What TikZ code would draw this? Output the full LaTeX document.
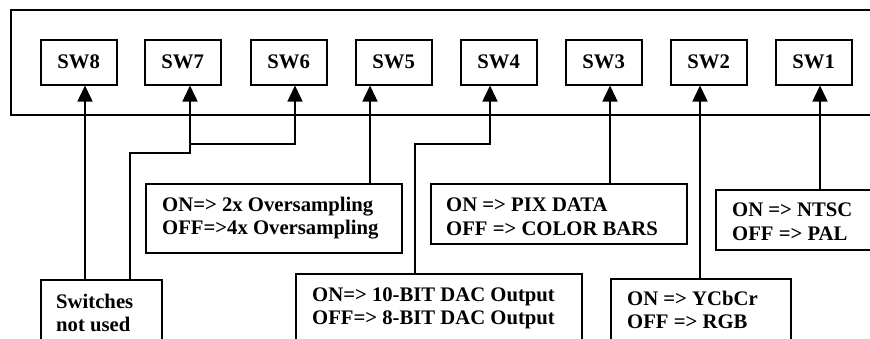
\documentclass[tikz,border=0pt]{standalone}
\usepackage{fontspec}
\setmainfont{Liberation Serif}
\usetikzlibrary{arrows.meta}
\tikzset{
  fnt/.style={font=\fontsize{20.7}{23.5}\selectfont\bfseries},
  box/.style={draw, line width=1.5pt, inner sep=0pt, anchor=north west},
  swbox/.style={box, fnt, minimum width=76pt, minimum height=45pt},
  lbl/.style={fnt, align=left, anchor=base west, inner sep=0pt},
  arr/.style={line width=1.5pt, -{Triangle[length=16pt,width=15pt]}},
  wire/.style={line width=1.5pt}
}
\begin{document}
\begin{tikzpicture}[x=1pt,y=-1pt]
\clip (0,0) rectangle (870,338);
\fill[white] (0,0) rectangle (870,338);
% panel
\node[box, line width=1.8pt, minimum width=890pt, minimum height=105pt] (panel) at (10,9) {};
% switches
\node[swbox] (sw8) at (40,39) {SW8};
\node[swbox] (sw7) at (144,39) {SW7};
\node[swbox] (sw6) at (250,39) {SW6};
\node[swbox] (sw5) at (355,39) {SW5};
\node[swbox] (sw4) at (460,39) {SW4};
\node[swbox] (sw3) at (565,39) {SW3};
\node[swbox] (sw2) at (670,39) {SW2};
\node[swbox] (sw1) at (775,39) {SW1};
% description boxes
\node[box, minimum width=121pt, minimum height=80pt] (nu) at (40,279) {};
\node[box, minimum width=256pt, minimum height=69pt] (os) at (145,183) {};
\node[box, minimum width=286pt, minimum height=80pt] (dac) at (295,273) {};
\node[box, minimum width=256pt, minimum height=60pt] (pix) at (430,183) {};
\node[box, minimum width=180pt, minimum height=80pt] (ycc) at (610,278) {};
\node[box, minimum width=170pt, minimum height=60pt] (ntsc) at (715,189) {};
% texts (anchored at the baseline of the second line)
\node[lbl] (tnu) at (56,331.5) {Switches\\not used};
\node[lbl] (tos) at (162,234.5) {ON=> 2x Oversampling\\OFF=>4x Oversampling};
\node[lbl] (tdac) at (312,324.5) {ON=> 10-BIT DAC Output\\OFF=> 8-BIT DAC Output};
\node[lbl] (tpix) at (446,235) {ON => PIX DATA\\OFF => COLOR BARS};
\node[lbl] (tycc) at (627,328.5) {ON => YCbCr\\OFF => RGB};
\node[lbl] (tntsc) at (732,240) {ON => NTSC\\OFF => PAL};
% x positions of the wires
\coordinate (x8) at (85,0);
\coordinate (x7) at (190,0);
\coordinate (x6) at (295,0);
\coordinate (x5) at (370,0);
\coordinate (x4) at (490,0);
\coordinate (x3) at (610,0);
\coordinate (x2) at (700,0);
\coordinate (x1) at (820,0);
\coordinate (j7) at (130,153);
\coordinate (j6) at (190,144);
\coordinate (j4) at (415,144);
% connectors
\draw[arr] (nu.north -| x8) -- (sw8.south -| x8);
\draw[arr] (nu.north -| j7) -- (j7) -| (sw7.south -| x7);
\draw[arr] (j6) -| (sw6.south -| x6);
\draw[arr] (os.north -| x5) -- (sw5.south -| x5);
\draw[arr] (dac.north -| j4) -- (j4) -| (sw4.south -| x4);
\draw[arr] (pix.north -| x3) -- (sw3.south -| x3);
\draw[arr] (ycc.north -| x2) -- (sw2.south -| x2);
\draw[arr] (ntsc.north -| x1) -- (sw1.south -| x1);
\end{tikzpicture}
\end{document}
